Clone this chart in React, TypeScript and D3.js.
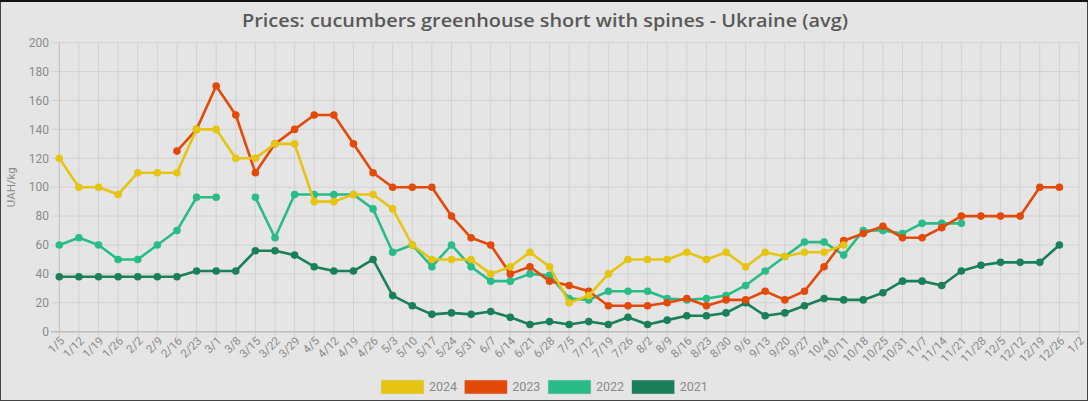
import React from "react";
import * as d3 from "d3";

const weeks = ["1/5","1/12","1/19","1/26","2/2","2/9","2/16","2/23","3/1","3/8","3/15","3/22","3/29","4/5","4/12","4/19","4/26","5/3","5/10","5/17","5/24","5/31","6/7","6/14","6/21","6/28","7/5","7/12","7/19","7/26","8/2","8/9","8/16","8/23","8/30","9/6","9/13","9/20","9/27","10/4","10/11","10/18","10/25","10/31","11/7","11/14","11/21","11/28","12/5","12/12","12/19","12/26","1/2"];

type V = number | null;
const N = null;

const s2024: V[] = [120,100,100,95,110,110,110,140,140,120,120,130,130,90,90,95,95,85,60,50,50,50,40,45,55,45,20,25,40,50,50,50,55,50,55,45,55,52,55,55,60,N,N,N,N,N,N,N,N,N,N,N,N];
const s2023: V[] = [N,N,N,N,N,N,125,140,170,150,110,130,140,150,150,130,110,100,100,100,80,65,60,40,45,35,32,28,18,18,18,20,23,18,22,22,28,22,28,45,63,68,73,65,65,72,80,80,80,80,100,100,N];
const s2022: V[] = [60,65,60,50,50,60,70,93,93,N,93,65,95,95,95,95,85,55,60,45,60,45,35,35,40,39,23,22,28,28,28,23,22,23,25,32,42,52,62,62,53,70,70,68,75,75,75,N,N,N,N,N,N];
const s2021: V[] = [38,38,38,38,38,38,38,42,42,42,56,56,53,45,42,42,50,25,18,12,13,12,14,10,5,7,5,7,5,10,5,8,11,11,13,20,11,13,18,23,22,22,27,35,35,32,42,46,48,48,48,60,N];

const seriesNames = ["2024", "2023", "2022", "2021"];
const seriesColors = ["#e5c512", "#e34a0a", "#29bb88", "#1a7f5b"];
const seriesData = [s2024, s2023, s2022, s2021];
const yTicks = [0, 20, 40, 60, 80, 100, 120, 140, 160, 180, 200];

const W = 1088, H = 401;
const left = 59.3, right = 1079, top = 42.7, bottom = 331.7;

export default function App() {
  const x = d3.scalePoint<string>().domain(weeks).range([left, right]);
  const y = d3.scaleLinear().domain([0, 200]).range([bottom, top]);
  const line = d3.line<V>()
    .defined((d) => d !== null)
    .x((_, i) => x(weeks[i]) as number)
    .y((d) => y(d as number));

  const order = [3, 2, 1, 0];
  const legendX = [381, 464.3, 548, 631.7];

  return (
    <svg width={W} height={H} style={{ position: "absolute", left: 0, top: 0, fontFamily: "Roboto, sans-serif" }}>
      <rect x={0} y={0} width={W} height={H} fill="#e5e5e5" />
      <rect x={0.5} y={0.5} width={W - 1} height={H - 1} fill="none" stroke="#444" strokeWidth={1} />
      <line x1={0} x2={W} y1={1} y2={1} stroke="#111" strokeWidth={2} />
      <text x={242} y={27} textLength={606} lengthAdjust="spacingAndGlyphs" fontSize={17.5} fontWeight={600} fill="#595959" fontFamily="'Open Sans', sans-serif">
        Prices: cucumbers greenhouse short with spines - Ukraine (avg)
      </text>
      {/* grid */}
      {yTicks.map((t) => (
        <line key={"hy" + t} x1={left - 8} x2={right} y1={y(t)} y2={y(t)} stroke="#d2d2d2" strokeWidth={1} />
      ))}
      {weeks.map((w) => (
        <line key={"vx" + w} x1={x(w)} x2={x(w)} y1={top} y2={bottom + 6} stroke="#d2d2d2" strokeWidth={1} />
      ))}
      <line x1={left} x2={left} y1={top} y2={bottom} stroke="#c4c4c4" strokeWidth={1} />
      <line x1={left - 8} x2={right} y1={bottom} y2={bottom} stroke="#bdbdbd" strokeWidth={1.5} />
      {yTicks.map((t) => (
        <text key={"ty" + t} x={49} y={y(t)} dy="0.35em" textAnchor="end" fontSize={12} fill="#8a8a8a">{t}</text>
      ))}
      {weeks.map((w) => (
        <text key={"tx" + w} transform={`translate(${(x(w) as number) + 3},${bottom + 7}) rotate(-45)`} textAnchor="end" dy="0.35em" fontSize={11.5} fill="#8a8a8a">{w}</text>
      ))}
      <text transform={`translate(15,${(top + bottom) / 2}) rotate(-90)`} textAnchor="middle" fontSize={11.5} fill="#8a8a8a">UAH/kg</text>
      {/* series */}
      {order.map((k) => (
        <g key={"s" + k}>
          <path d={line(seriesData[k]) || ""} fill="none" stroke={seriesColors[k]} strokeWidth={2.6} strokeLinejoin="round" />
          {seriesData[k].map((v, i) => v === null ? null : (
            <circle key={i} cx={x(weeks[i])} cy={y(v)} r={3.8} fill={seriesColors[k]} />
          ))}
        </g>
      ))}
      {/* legend */}
      {seriesNames.map((n, k) => (
        <g key={"l" + n}>
          <rect x={legendX[k]} y={380} width={43} height={14} fill={seriesColors[k]} stroke="#d8d8d8" strokeWidth={0.5} />
          <text x={legendX[k] + 48} y={387} dy="0.35em" fontSize={12.5} fill="#8a8a8a">{n}</text>
        </g>
      ))}
    </svg>
  );
}
